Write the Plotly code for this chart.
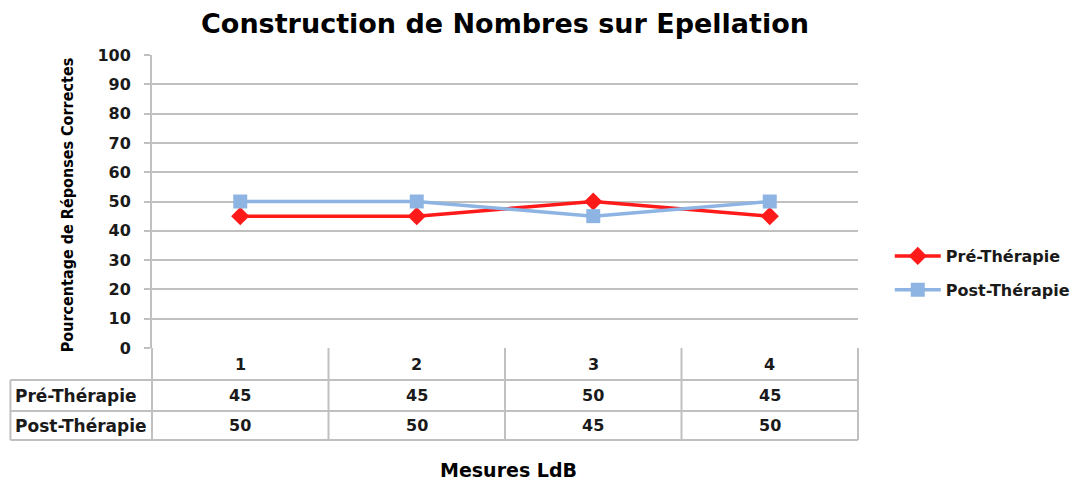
import plotly.graph_objects as go

categories = [1, 2, 3, 4]
series_names = ["Pré-Thérapie", "Post-Thérapie"]
pre_values = [45, 45, 50, 45]
post_values = [50, 50, 45, 50]
y_ticks = list(range(0, 101, 10))

BOLD = "'DejaVu Sans', sans-serif"
NARROW = "'Liberation Sans Narrow', 'DejaVu Sans Condensed', sans-serif"
GRID = "#c0c0c0"
TXT = "#1a1a1a"

fig = go.Figure()
fig.add_trace(go.Scatter(
    x=categories, y=pre_values, name=series_names[0], mode="lines+markers", legendgroup="a",
    line=dict(color="#ff1a1a", width=3.5),
    marker=dict(symbol="diamond", size=14, color="#ff1a1a"),
))
fig.add_trace(go.Scatter(
    x=categories, y=post_values, name=series_names[1], mode="lines+markers", legendgroup="b",
    line=dict(color="#8db4e2", width=3.5),
    marker=dict(symbol="square", size=14, color="#8db4e2"),
))

# page body has an 8px margin; figure is sized so the plot area matches the reference
W, H = 1079, 475
plot_h = 293.0
def py(pix):
    return (348 - pix) / plot_h

row_tops = [py(380), py(411), py(440)]
left_edge = -142 / 708.0

shapes = []
for rt in row_tops:
    shapes.append(dict(type="line", xref="paper", yref="paper", x0=left_edge, x1=1, y0=rt, y1=rt,
                       line=dict(color=GRID, width=2)))
for i in range(len(categories) + 1):
    xp = i / len(categories)
    shapes.append(dict(type="line", xref="paper", yref="paper", x0=xp, x1=xp, y0=0, y1=row_tops[2],
                       line=dict(color=GRID, width=2)))
shapes.append(dict(type="line", xref="paper", yref="paper", x0=left_edge, x1=left_edge, y0=row_tops[0],
                   y1=row_tops[2], line=dict(color=GRID, width=2)))

annotations = []
hdr_y = (0 + row_tops[0]) / 2
r1_y = (row_tops[0] + row_tops[1]) / 2
r2_y = (row_tops[1] + row_tops[2]) / 2
num_font = dict(family=BOLD, size=16, color=TXT, weight="bold")
lbl_font = dict(family=BOLD, size=17, color=TXT, weight="bold")
for c, a, b in zip(categories, pre_values, post_values):
    for val, yy in zip([c, a, b], [hdr_y, r1_y, r2_y]):
        annotations.append(dict(x=c, y=yy, xref="x", yref="paper", text=str(val), showarrow=False,
                                font=num_font, yanchor="middle"))
for name, yy in zip(series_names, [r1_y, r2_y]):
    annotations.append(dict(x=left_edge + 0.003, y=yy, xref="paper", yref="paper", text=name, showarrow=False,
                            xanchor="left", yanchor="middle", font=lbl_font))
# y axis title
annotations.append(dict(x=(67 - 152) / 708.0, y=py(205), xref="paper", yref="paper",
                        text="<b>Pourcentage de Réponses Correctes</b>", textangle=-90, showarrow=False,
                        xanchor="center", yanchor="middle", font=dict(family=NARROW, size=16, color="#000")))
# x axis title
annotations.append(dict(x=(510 - 152) / 708.0, y=py(470), xref="paper", yref="paper", text="<b>Mesures LdB</b>",
                        showarrow=False, xanchor="center", yanchor="middle",
                        font=dict(family=BOLD, size=19, color="#000")))

fig.update_layout(
    width=W, height=H,
    margin=dict(l=144, r=227, t=47, b=135),
    paper_bgcolor="white", plot_bgcolor="white",
    title=dict(text="<b>Construction de Nombres sur Epellation</b>", x=0.5, xref="paper",
               y=1 - 16 / H, yanchor="middle", font=dict(family=BOLD, size=27, color="#000")),
    xaxis=dict(range=[0.5, 4.5], showticklabels=False, showgrid=False, zeroline=False,
               showline=False, ticks="", tickvals=categories),
    yaxis=dict(range=[0, 100], tickvals=y_ticks, showgrid=True, gridcolor=GRID, gridwidth=2,
               zeroline=False, showline=True, linecolor=GRID, linewidth=2,
               ticks="outside", ticklen=6, tickcolor=GRID, tickwidth=2, ticklabelstandoff=10,
               tickfont=dict(family=BOLD, size=16, color=TXT, weight="bold")),
    legend=dict(x=1.045, y=py(273), xanchor="left", yanchor="middle",
                font=dict(family=BOLD, size=16, color=TXT, weight="bold"), itemwidth=46,
                traceorder="grouped", tracegroupgap=10,
                bgcolor="rgba(0,0,0,0)"),
    shapes=shapes, annotations=annotations, showlegend=True,
)

fig.write_html("out.html")
